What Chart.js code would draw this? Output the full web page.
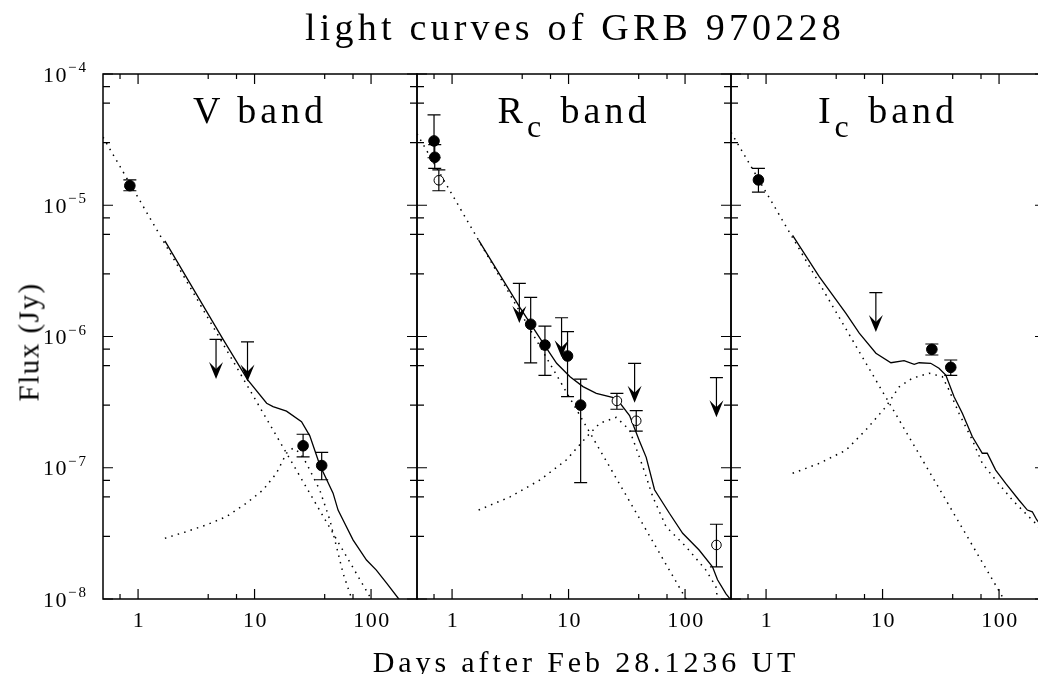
<!DOCTYPE html>
<html>
<head>
<meta charset="utf-8">
<title>light curves of GRB 970228</title>
<script src="https://cdn.jsdelivr.net/npm/chart.js@4.4.1/dist/chart.umd.min.js"></script>
<style>
  html, body { margin: 0; padding: 0; background: #fff; }
  body { position: relative; width: 1038px; height: 674px; overflow: hidden; font-family: 'Liberation Serif', 'Times New Roman', serif; color: #000; }
  canvas { position: absolute; left: 0; top: 0; }
  .txt { position: absolute; white-space: nowrap; line-height: 1; }
  #title { left: 0; width: 1150px; top: 8px; text-align: center; font-size: 38px; letter-spacing: 4.2px; }
  .band { top: 91px; width: 314px; text-align: center; font-size: 38px; letter-spacing: 4px; }
  .band .sub { font-size: 32px; position: relative; top: 14px; letter-spacing: 0; margin-right: 6px; }
  #xlabel { left: 0; width: 1172px; top: 647px; text-align: center; font-size: 30px; letter-spacing: 3.9px; }
  #ylabel { left: 29px; top: 342px; font-size: 29px; letter-spacing: 1.5px; transform: translate(-50%, -50%) rotate(-90deg); }
</style>
</head>
<body>
<canvas id="panelV" width="1100" height="674"></canvas>
<canvas id="panelR" width="1100" height="674"></canvas>
<canvas id="panelI" width="1100" height="674"></canvas>

<div class="txt" id="title">light curves of GRB 970228</div>
<div class="txt band" style="left:103px">V band</div>
<div class="txt band" style="left:417px">R<span class="sub">c</span> band</div>
<div class="txt band" style="left:731px">I<span class="sub">c</span> band</div>
<div class="txt" id="xlabel">Days after Feb 28.1236 UT</div>
<div class="txt" id="ylabel">Flux (Jy)</div>

<script>
// axis ranges
const dayMin = 0.5, dayMax = 248;
const fluxMin = 1e-8, fluxMax = 1e-4;

// V band
const vDays = [0.85, 26.1, 37.7];
const vFlux = [1.41e-5, 1.47e-7, 1.04e-7];
const vFluxHi = [1.56e-5, 1.8e-7, 1.31e-7];
const vFluxLo = [1.29e-5, 1.21e-7, 8.1e-8];
const vLimDays = [4.67, 8.7];
const vLimFlux = [9.5e-7, 9.1e-7];
const vModelDays = [1.70, 5.37, 8.74, 12.7, 14.4, 18.8, 25.3, 29.8, 36.3, 47.2, 52.1, 57.5, 70.0, 91.4, 111, 136, 173, 190];
const vModelFlux = [5.35e-6, 9.5e-7, 4.67e-7, 3.1e-7, 2.92e-7, 2.7e-7, 2.24e-7, 1.75e-7, 1.05e-7, 6.4e-8, 4.76e-8, 4.0e-8, 2.82e-8, 1.98e-8, 1.66e-8, 1.32e-8, 1.0e-8, 8.8e-9];
const vPowDays = [0.5, 120];
const vPowFlux = [3.3e-5, 7.6e-9];
const vSnDays = [1.70, 2.60, 3.86, 5.74, 8.5, 11.8, 15.4, 18.8, 21.4, 24.5, 27.9, 36.3, 44.3, 50.5, 57.5, 68.3, 75];
const vSnFlux = [2.9e-8, 3.26e-8, 3.67e-8, 4.24e-8, 5.36e-8, 6.76e-8, 9.07e-8, 1.29e-7, 1.41e-7, 1.3e-7, 1.08e-7, 6.76e-8, 4.0e-8, 2.5e-8, 1.57e-8, 1.0e-8, 8e-9];

// Rc band
const rDays = [0.70, 0.71, 4.73, 6.27, 9.8, 12.7];
const rFlux = [3.09e-5, 2.32e-5, 1.24e-6, 8.6e-7, 7.1e-7, 3.0e-7];
const rFluxHi = [4.88e-5, 2.9e-5, 1.99e-6, 1.20e-6, 1.09e-6, 4.74e-7];
const rFluxLo = [2.3e-5, 1.91e-5, 6.3e-7, 5.06e-7, 3.48e-7, 7.7e-8];
const rOpenDays = [0.77, 26.0, 38.1, 186];
const rOpenFlux = [1.55e-5, 3.23e-7, 2.28e-7, 2.58e-8];
const rOpenHi = [1.86e-5, 3.69e-7, 2.72e-7, 3.71e-8];
const rOpenLo = [1.29e-5, 2.79e-7, 1.90e-7, 1.76e-8];
const rLimDays = [3.78, 8.71, 36.9, 186];
const rLimFlux = [2.54e-6, 1.39e-6, 6.25e-7, 4.86e-7];
const rModelDays = [1.69, 3.84, 6.07, 7.9, 10.3, 13.3, 17.3, 25.7, 33.4, 40.6, 46.4, 54.7, 73.4, 95.4, 132, 172, 190, 224, 244, 260];
const rModelFlux = [5.43e-6, 1.65e-6, 8.87e-7, 6.25e-7, 4.94e-7, 4.15e-7, 3.69e-7, 3.38e-7, 2.5e-7, 1.6e-7, 1.2e-7, 6.8e-8, 4.5e-8, 3.17e-8, 2.36e-8, 1.76e-8, 1.40e-8, 1.10e-8, 1.0e-8, 9e-9];
const rPowDays = [0.5, 120];
const rPowFlux = [3.5e-5, 7.8e-9];
const rSnDays = [1.69, 3.15, 5.69, 9.6, 14.3, 18.5, 25.7, 33.4, 43.4, 52.9, 68.8, 102, 151, 184, 190, 200];
const rSnFlux = [4.76e-8, 6.0e-8, 8.07e-8, 1.15e-7, 1.72e-7, 2.18e-7, 2.42e-7, 1.94e-7, 1.02e-7, 6.0e-8, 3.55e-8, 2.5e-8, 1.66e-8, 1.24e-8, 1.0e-8, 8e-9];

// Ic band
const iDays = [0.86, 26.5, 38.5];
const iFlux = [1.56e-5, 7.98e-7, 5.82e-7];
const iFluxHi = [1.91e-5, 8.77e-7, 6.62e-7];
const iFluxLo = [1.26e-5, 7.23e-7, 5.06e-7];
const iLimDays = [8.76];
const iLimFlux = [2.16e-6];
const iModelDays = [1.69, 2.86, 4.85, 6.31, 8.77, 11.8, 15.3, 18.7, 20.6, 25.9, 30.5, 34.9, 41.1, 48.4, 58.9, 71.8, 79.2, 93.5, 114, 148, 175, 193, 211, 250];
const iModelFlux = [5.9e-6, 2.86e-6, 1.50e-6, 1.06e-6, 7.45e-7, 6.31e-7, 6.54e-7, 6.14e-7, 6.31e-7, 6.25e-7, 5.73e-7, 5.09e-7, 3.48e-7, 2.60e-7, 1.73e-7, 1.29e-7, 1.29e-7, 9.6e-8, 7.6e-8, 5.68e-8, 4.76e-8, 4.62e-8, 4.0e-8, 3.3e-8];
const iPowDays = [0.5, 125];
const iPowFlux = [3.6e-5, 8.2e-9];
const iSnDays = [1.69, 2.86, 4.85, 7.19, 10.7, 13.9, 18.0, 25.1, 32.6, 37.2, 45.3, 58.9, 71.8, 93.5, 130, 180, 206, 250];
const iSnFlux = [9.07e-8, 1.08e-7, 1.36e-7, 1.94e-7, 2.92e-7, 4.14e-7, 4.81e-7, 5.25e-7, 4.94e-7, 3.91e-7, 2.60e-7, 1.63e-7, 1.08e-7, 8.07e-8, 5.68e-8, 4.24e-8, 3.77e-8, 3.0e-8];

const pts = (xs, ys) => xs.map((x, i) => ({x: x, y: ys[i]}));

// ticks at 1..9 x 10^n, majors on the decades
function decadeTicks(scale) {
    const out = [];
    const e0 = Math.floor(Math.log10(scale.min)), e1 = Math.ceil(Math.log10(scale.max));
    for (let e = e0; e <= e1; e++) {
        for (let m = 1; m <= 9; m++) {
            const v = m * Math.pow(10, e);
            if (v >= scale.min * 0.9999 && v <= scale.max * 1.0001) out.push({value: v, major: m === 1});
        }
    }
    scale.ticks = out;
}

const frameTicks = {
    id: 'frameTicks',
    afterDraw(chart, args, opts) {
        const {ctx, chartArea: a, scales: {x, y}} = chart;
        ctx.save();
        ctx.strokeStyle = '#000';
        ctx.lineWidth = 1.5;
        ctx.strokeRect(a.left, a.top, a.right - a.left, a.bottom - a.top);
        ctx.lineWidth = 1.2;
        ctx.beginPath();
        x.ticks.forEach(t => {
            const px = x.getPixelForValue(t.value);
            const len = t.major ? 10 : 5;
            ctx.moveTo(px, a.bottom); ctx.lineTo(px, a.bottom - len);
            ctx.moveTo(px, a.top); ctx.lineTo(px, a.top + len);
        });
        y.ticks.forEach(t => {
            const py = y.getPixelForValue(t.value);
            const len = t.major ? 10 : 7;
            ctx.moveTo(a.left, py); ctx.lineTo(a.left + len, py);
            ctx.moveTo(a.right, py); ctx.lineTo(a.right - len, py);
        });
        ctx.stroke();

        ctx.fillStyle = '#000';
        ctx.font = '22px "Liberation Serif"';
        ctx.letterSpacing = '1.5px';
        ctx.textAlign = 'center';
        ctx.textBaseline = 'alphabetic';
        x.ticks.forEach(t => {
            if (t.major && t.value >= 1) {
                ctx.fillText(String(Math.round(t.value)), x.getPixelForValue(t.value) + 1, a.bottom + 28);
            }
        });
        if (opts.yLabels) {
            y.ticks.forEach(t => {
                if (!t.major) return;
                const py = y.getPixelForValue(t.value);
                const ex = Math.round(Math.log10(t.value));
                ctx.font = '22px "Liberation Serif"';
                ctx.letterSpacing = '1.5px';
                ctx.textAlign = 'right';
                ctx.fillText('10', a.left - 35, py + 7.5);
                ctx.font = '15px "Liberation Serif"';
                ctx.letterSpacing = '2px';
                ctx.textAlign = 'left';
                ctx.fillText('\u2212' + Math.abs(ex), a.left - 35, py - 2);
            });
        }
        ctx.restore();
    }
};

const errorBars = {
    id: 'errorBars',
    afterDatasetsDraw(chart) {
        const {ctx, chartArea: a, scales: {x, y}} = chart;
        ctx.save();
        ctx.beginPath();
        ctx.rect(a.left, a.top, a.right - a.left, a.bottom - a.top);
        ctx.clip();
        ctx.strokeStyle = '#000';
        ctx.fillStyle = '#000';
        ctx.lineWidth = 1.2;
        chart.data.datasets.forEach(ds => {
            if (ds.errHi) {
                ds.data.forEach((p, i) => {
                    const px = x.getPixelForValue(p.x);
                    const yh = y.getPixelForValue(ds.errHi[i]);
                    const yl = y.getPixelForValue(ds.errLo[i]);
                    ctx.beginPath();
                    ctx.moveTo(px, yh); ctx.lineTo(px, yl);
                    ctx.moveTo(px - 6.5, yh); ctx.lineTo(px + 6.5, yh);
                    ctx.moveTo(px - 6.5, yl); ctx.lineTo(px + 6.5, yl);
                    ctx.stroke();
                });
            }
            if (ds.upperLimit) {
                ds.data.forEach(p => {
                    const px = x.getPixelForValue(p.x);
                    const top = y.getPixelForValue(p.y);
                    const tip = y.getPixelForValue(p.y / 2);
                    ctx.beginPath();
                    ctx.moveTo(px - 6.5, top); ctx.lineTo(px + 6.5, top);
                    ctx.moveTo(px, top); ctx.lineTo(px, tip - 8);
                    ctx.stroke();
                    ctx.beginPath();
                    ctx.moveTo(px, tip);
                    ctx.lineTo(px - 7, tip - 17);
                    ctx.lineTo(px, tip - 10);
                    ctx.lineTo(px + 7, tip - 17);
                    ctx.closePath();
                    ctx.fill();
                });
            }
        });
        ctx.restore();
    }
};

function modelLine(xs, ys, dotted) {
    return {
        data: pts(xs, ys),
        showLine: true,
        borderColor: '#000',
        borderWidth: dotted ? 1.5 : 1.3,
        borderDash: dotted ? [1.5, 5.2] : [],
        pointRadius: 0,
        tension: 0,
        order: 5
    };
}

function markers(xs, ys, hi, lo, open) {
    return {
        data: pts(xs, ys),
        errHi: hi,
        errLo: lo,
        pointRadius: open ? 4.8 : 5.3,
        pointBackgroundColor: open ? '#fff' : '#000',
        pointBorderColor: '#000',
        pointBorderWidth: 1,
        order: 1
    };
}

function limits(xs, ys) {
    return {data: pts(xs, ys), upperLimit: true, pointRadius: 0, order: 2};
}

const panelWidth = 314;
const canvasWidth = 1100;

function makePanel(id, left, datasets, yLabels) {
    return new Chart(document.getElementById(id), {
        type: 'scatter',
        data: {datasets: datasets},
        options: {
            responsive: false,
            animation: false,
            events: [],
            layout: {padding: {left: left, right: canvasWidth - left - panelWidth, top: 74, bottom: 75}},
            plugins: {
                legend: {display: false},
                tooltip: {enabled: false},
                frameTicks: {yLabels: yLabels}
            },
            scales: {
                x: {type: 'logarithmic', min: dayMin, max: dayMax, display: false, afterBuildTicks: decadeTicks},
                y: {type: 'logarithmic', min: fluxMin, max: fluxMax, display: false, afterBuildTicks: decadeTicks}
            }
        },
        plugins: [errorBars, frameTicks]
    });
}

makePanel('panelV', 103, [
    markers(vDays, vFlux, vFluxHi, vFluxLo, false),
    limits(vLimDays, vLimFlux),
    modelLine(vModelDays, vModelFlux, false),
    modelLine(vPowDays, vPowFlux, true),
    modelLine(vSnDays, vSnFlux, true)
], true);

makePanel('panelR', 417, [
    markers(rDays, rFlux, rFluxHi, rFluxLo, false),
    markers(rOpenDays, rOpenFlux, rOpenHi, rOpenLo, true),
    limits(rLimDays, rLimFlux),
    modelLine(rModelDays, rModelFlux, false),
    modelLine(rPowDays, rPowFlux, true),
    modelLine(rSnDays, rSnFlux, true)
], false);

makePanel('panelI', 731, [
    markers(iDays, iFlux, iFluxHi, iFluxLo, false),
    limits(iLimDays, iLimFlux),
    modelLine(iModelDays, iModelFlux, false),
    modelLine(iPowDays, iPowFlux, true),
    modelLine(iSnDays, iSnFlux, true)
], false);
</script>
</body>
</html>
